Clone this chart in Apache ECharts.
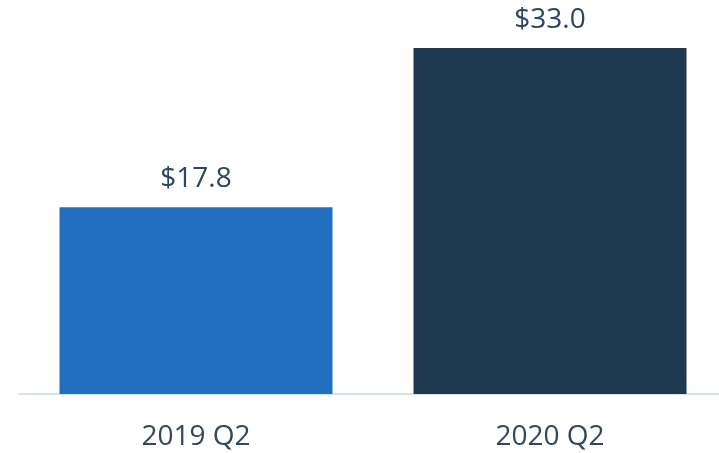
<!DOCTYPE html>
<html>
<head>
<meta charset="utf-8">
<script src="https://cdn.jsdelivr.net/npm/echarts@6/dist/echarts.min.js"></script>
<style>
  html, body { margin: 0; padding: 0; background: #fff; }
  #chart { width: 719px; height: 453px; }
</style>
</head>
<body>
<div id="chart"></div>
<script>
const categories = ['2019 Q2', '2020 Q2'];
const values = [17.8, 33.0];
const barColors = ['#2170c0', '#20384f'];

const chart = echarts.init(document.getElementById('chart'));
chart.setOption({
  animation: false,
  grid: { left: 19, width: 708, top: 48, bottom: 59, outerBoundsMode: 'none' },
  xAxis: {
    type: 'category',
    data: categories,
    axisTick: { show: false },
    axisLine: { lineStyle: { color: '#d6e2ee', width: 2 } },
    axisLabel: {
      margin: 29,
      color: '#34475c',
      fontSize: 28,
      fontFamily: 'Open Sans'
    }
  },
  yAxis: {
    type: 'value',
    min: 0,
    max: v => v.max,
    show: false,
    splitLine: { show: false }
  },
  series: [{
    type: 'bar',
    barWidth: 273,
    data: values.map((v, i) => ({ value: v, itemStyle: { color: barColors[i] } })),
    label: {
      show: true,
      position: 'top',
      distance: 14,
      color: '#2d4560',
      fontSize: 28,
      fontFamily: 'Open Sans',
      formatter: p => '$' + p.value.toFixed(1)
    }
  }]
});
</script>
</body>
</html>
